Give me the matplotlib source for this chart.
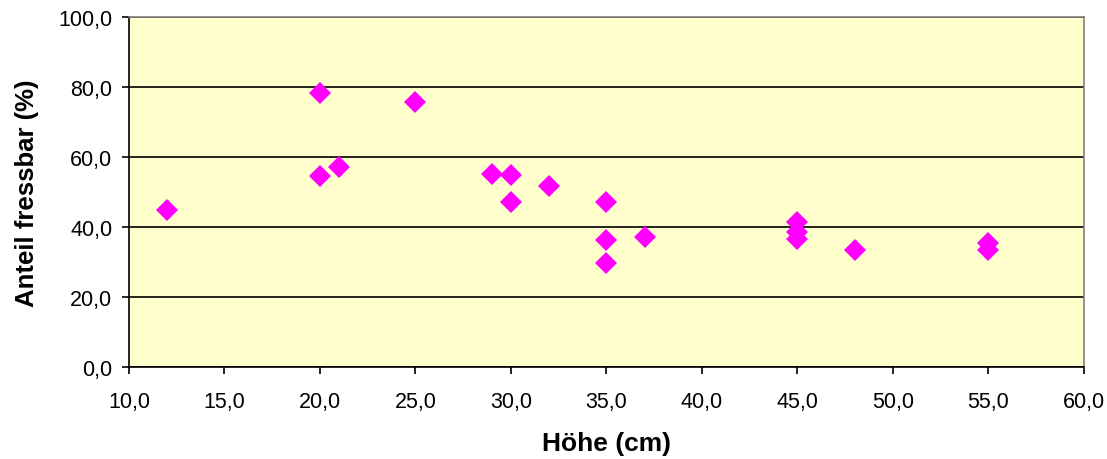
import matplotlib
matplotlib.use("Agg")
import matplotlib.pyplot as plt
from matplotlib.ticker import FuncFormatter, MultipleLocator

plt.rcParams['font.family'] = ['Liberation Sans', 'DejaVu Sans']

# Höhe (cm) vs. Anteil fressbar (%)
hoehe = [12, 20, 20, 21, 25, 29, 30, 30, 32, 35, 35, 35, 37, 45, 45, 45, 48, 55, 55]
anteil = [44.9, 78.4, 54.5, 57.1, 75.8, 55.3, 55.0, 47.1, 51.9, 47.1, 36.2, 29.7,
          37.1, 41.6, 38.6, 36.5, 33.6, 35.4, 33.5]

fig = plt.figure(figsize=(11.07, 4.6), dpi=100)
ax = fig.add_axes([0.1165, 0.2, 0.8625, 0.76])
ax.set_facecolor('#FFFFCC')

ax.plot(hoehe, anteil, linestyle='none', marker='D', markersize=11.5,
        color='#FF00FF', markeredgewidth=0, zorder=3)

ax.set_xlim(10, 60)
ax.set_ylim(0, 100)
ax.xaxis.set_major_locator(MultipleLocator(5))
ax.yaxis.set_major_locator(MultipleLocator(20))
comma = FuncFormatter(lambda v, p: f"{v:.1f}".replace('.', ','))
ax.xaxis.set_major_formatter(comma)
ax.yaxis.set_major_formatter(comma)

ax.yaxis.grid(True, color='black', linewidth=1.2)
ax.set_axisbelow(True)

for s in ax.spines.values():
    s.set_color('#808080')
    s.set_linewidth(1.2)
ax.spines['left'].set_color('black')
ax.spines['bottom'].set_color('black')

ax.tick_params(axis='both', labelsize=15.5, direction='out', length=5, width=1.2,
               colors='black')
ax.tick_params(axis='x', pad=12)
ax.tick_params(axis='y', pad=7)

ax.set_xlabel('Höhe (cm)', fontsize=19, fontweight='bold', labelpad=14)
ax.set_ylabel('Anteil fressbar (%)', fontsize=18.5, fontweight='bold', labelpad=14)

fig.savefig('out.png', dpi=100)
